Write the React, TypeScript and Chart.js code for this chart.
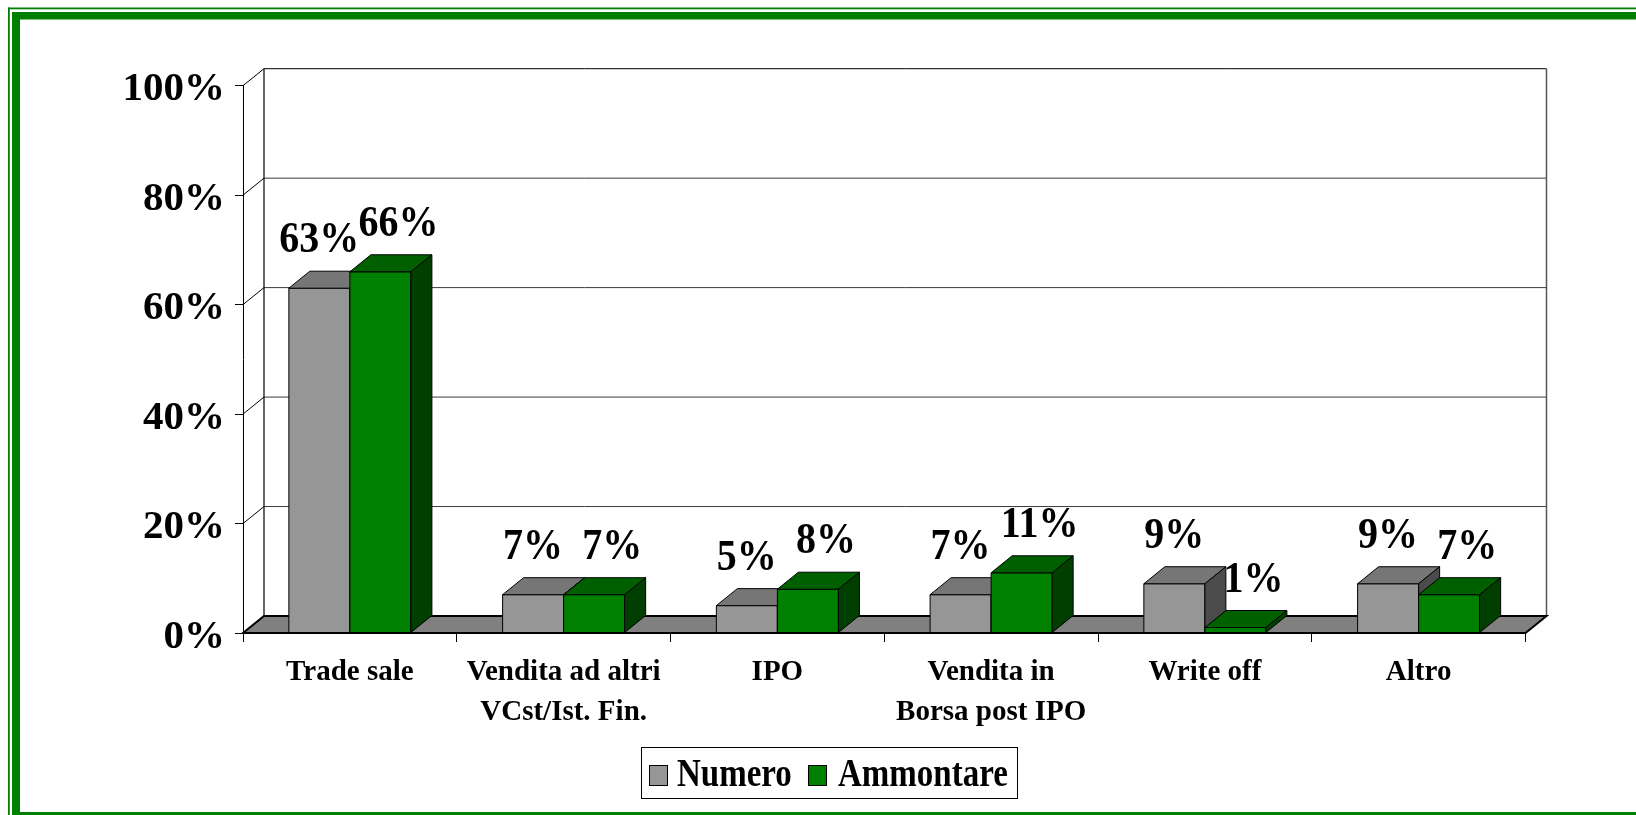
import React, { useEffect, useRef } from 'react';
import { Chart, registerables } from 'chart.js';

Chart.register(...registerables);

const categories: (string | string[])[] = [
  'Trade sale',
  ['Vendita ad altri', 'VCst/Ist. Fin.'],
  'IPO',
  ['Vendita in', 'Borsa post IPO'],
  'Write off',
  'Altro',
];
const numero = [63, 7, 5, 7, 9, 9];
const ammontare = [66, 7, 8, 11, 1, 7];
const seriesNames = ['Numero', 'Ammontare'];
const yTickStep = 20;
const yMax = 100;

const FONT = "'Times New Roman', 'Liberation Serif', serif";
const DX = 21;
const DY = -17;

const palette = [
  { front: '#969696', top: '#767676', side: '#4b4b4b' },
  { front: '#008000', top: '#006000', side: '#003f00' },
];

function poly(ctx: CanvasRenderingContext2D, pts: number[][], fill: string, stroke = '#000', lw = 1) {
  ctx.beginPath();
  ctx.moveTo(pts[0][0], pts[0][1]);
  for (let i = 1; i < pts.length; i++) ctx.lineTo(pts[i][0], pts[i][1]);
  ctx.closePath();
  ctx.fillStyle = fill;
  ctx.fill();
  ctx.strokeStyle = stroke;
  ctx.lineWidth = lw;
  ctx.stroke();
}

function line(ctx: CanvasRenderingContext2D, x1: number, y1: number, x2: number, y2: number, color: string, lw = 1) {
  ctx.beginPath();
  ctx.moveTo(x1, y1);
  ctx.lineTo(x2, y2);
  ctx.strokeStyle = color;
  ctx.lineWidth = lw;
  ctx.stroke();
}

function stretchedText(ctx: CanvasRenderingContext2D, text: string, x: number, y: number, size: number, sy: number, align: CanvasTextAlign) {
  ctx.save();
  ctx.translate(x, y);
  ctx.scale(1, sy);
  ctx.font = `bold ${size}px ${FONT}`;
  ctx.textAlign = align;
  ctx.textBaseline = 'alphabetic';
  ctx.fillStyle = '#000';
  ctx.fillText(text, 0, 0);
  ctx.restore();
}

const bars3d = {
  id: 'bars3d',
  beforeDraw(chart: any) {
    const ctx: CanvasRenderingContext2D = chart.ctx;
    ctx.save();
    ctx.fillStyle = '#ffffff';
    ctx.fillRect(0, 0, chart.width, chart.height);
    ctx.fillStyle = '#008000';
    ctx.fillRect(8, 7.5, chart.width, 1.8);
    ctx.fillRect(8, 7.5, 1.8, chart.height);
    ctx.fillRect(12, 12, chart.width, 7.5);
    ctx.fillRect(12, 12, 8, chart.height);
    ctx.fillRect(12, 812, chart.width, 8);
    ctx.restore();
  },
  beforeDatasetsDraw(chart: any) {
    const ctx: CanvasRenderingContext2D = chart.ctx;
    const { left, right, top, bottom } = chart.chartArea;
    const ys = chart.scales.y;
    ctx.save();
    // walls and gridlines
    for (let v = 0; v <= yMax; v += yTickStep) {
      const py = ys.getPixelForValue(v);
      line(ctx, left, py, left + DX, py + DY, '#000', 1);
      if (v > 0) line(ctx, left + DX, py + DY, right + DX, py + DY, v === yMax ? '#000' : '#3a3a3a', 1);
    }
    line(ctx, left + DX, top + DY, left + DX, bottom + DY, '#000', 1.2);
    line(ctx, right + DX, top + DY, right + DX, bottom + DY, '#555', 1.5);
    // floor
    poly(ctx, [[left, bottom], [right, bottom], [right + DX, bottom + DY], [left + DX, bottom + DY]], '#808080', '#000', 2);
    // bars
    const nCat = categories.length;
    for (let i = 0; i < nCat; i++) {
      for (let d = 0; d < chart.data.datasets.length; d++) {
        const meta = chart.getDatasetMeta(d);
        const el = meta.data[i];
        if (!el) continue;
        const p = el.getProps(['x', 'y', 'base', 'width'], true);
        const l = p.x - p.width / 2;
        const r = p.x + p.width / 2;
        const yt = p.y;
        const b = p.base;
        const c = palette[d];
        poly(ctx, [[l, yt], [r, yt], [r, b], [l, b]], c.front);
        poly(ctx, [[l, yt], [r, yt], [r + DX, yt + DY], [l + DX, yt + DY]], c.top);
        poly(ctx, [[r, yt], [r + DX, yt + DY], [r + DX, b + DY], [r, b]], c.side);
      }
    }
    // data labels
    for (let d = 0; d < chart.data.datasets.length; d++) {
      const meta = chart.getDatasetMeta(d);
      const vals = chart.data.datasets[d].data;
      meta.data.forEach((el: any, i: number) => {
        const p = el.getProps(['x', 'y'], true);
        const off = d === 0 ? 0 : 18;
        stretchedText(ctx, `${vals[i]}%`, p.x + off, p.y - 36, 40, 1.1, 'center');
      });
    }
    ctx.restore();
    return false;
  },
  afterDraw(chart: any) {
    const ctx: CanvasRenderingContext2D = chart.ctx;
    ctx.save();
    const bx = 641, by = 747, bw = 376, bh = 51;
    ctx.fillStyle = '#fff';
    ctx.fillRect(bx, by, bw, bh);
    ctx.strokeStyle = '#000';
    ctx.lineWidth = 1;
    ctx.strokeRect(bx + 0.5, by + 0.5, bw, bh);
    const items = [
      { sx: 649, tx: 677 },
      { sx: 808, tx: 838 },
    ];
    items.forEach((it, d) => {
      ctx.fillStyle = palette[d].front;
      ctx.fillRect(it.sx, 765, 18, 20);
      ctx.strokeStyle = '#000';
      ctx.lineWidth = 1;
      ctx.strokeRect(it.sx + 0.5, 765.5, 18, 20);
      stretchedText(ctx, seriesNames[d], it.tx, 786, 33, 1.22, 'left');
    });
    ctx.restore();
  },
};

export default function App() {
  const ref = useRef<HTMLCanvasElement>(null);
  useEffect(() => {
    const canvas = ref.current;
    if (!canvas) return;
    const chart = new Chart(canvas, {
      type: 'bar',
      data: {
        labels: categories,
        datasets: [
          { label: seriesNames[0], data: numero, backgroundColor: palette[0].front, borderColor: '#000', borderWidth: 1 },
          { label: seriesNames[1], data: ammontare, backgroundColor: palette[1].front, borderColor: '#000', borderWidth: 1 },
        ],
      },
      options: {
        responsive: false,
        animation: false,
        devicePixelRatio: 1,
        categoryPercentage: 0.571,
        barPercentage: 1.0,
        layout: { padding: { left: 0, top: 85.7, right: 110.5, bottom: 72 } },
        plugins: { legend: { display: false }, tooltip: { enabled: false } },
        scales: {
          x: {
            grid: { offset: true, drawOnChartArea: false, color: '#000', tickLength: 9, lineWidth: 1 },
            border: { display: true, color: '#000', width: 1 },
            ticks: {
              color: '#000',
              font: { family: FONT, size: 29, weight: 'bold', lineHeight: 1.4 },
              padding: 10,
              maxRotation: 0,
              autoSkip: false,
            },
            afterFit: (s: any) => { s.height = 110; },
          },
          y: {
            min: 0,
            max: yMax,
            ticks: {
              stepSize: yTickStep,
              callback: (v: any) => ['', `${v}%`],
              color: '#000',
              font: { family: FONT, size: 41, weight: 'bold', lineHeight: '8px' },
              padding: 10,
            },
            grid: { drawOnChartArea: false, color: '#000', tickLength: 8 },
            border: { display: true, color: '#000', width: 1 },
            afterFit: (s: any) => { s.width = 243; },
          },
        },
      } as any,
      plugins: [bars3d as any],
    });
    return () => chart.destroy();
  }, []);
  return (
    <div style={{ position: 'fixed', left: 0, top: 0, width: 1636, height: 815, background: '#fff' }}>
      <canvas ref={ref} width={1636} height={815} style={{ display: 'block', width: 1636, height: 815 }} />
    </div>
  );
}
